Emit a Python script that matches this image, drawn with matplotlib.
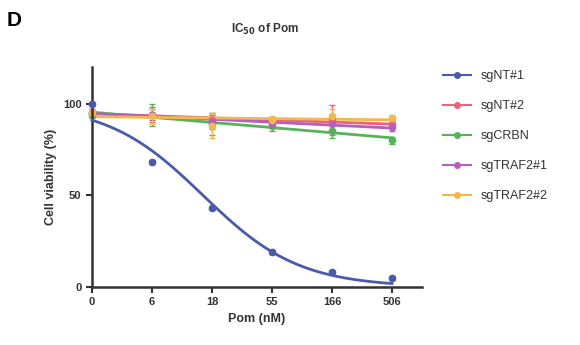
import numpy as np
import matplotlib
matplotlib.use("Agg")
import matplotlib.pyplot as plt

plt.rcParams['font.family'] = ['Liberation Sans', 'DejaVu Sans']

doses = ["0", "6", "18", "55", "166", "506"]
series_names = ["sgNT#1", "sgNT#2", "sgCRBN", "sgTRAF2#1", "sgTRAF2#2"]
colors = ["#4b5bab", "#e8637c", "#57b35a", "#b45fbf", "#f2b84b"]

nt1 = [100, 68, 43, 19, 8, 5]
nt2 = [95, 94, 91, 90, 91, 89]
crbn = [94, 94, 89, 88, 85, 80]
traf1 = [95, 94, 90, 89, 89, 87]
traf2 = [95, 93, 88, 91, 93, 92]
values = [nt1, nt2, crbn, traf1, traf2]
errs = [
    [1, 1, 1, 1, 1, 1],
    [2, 4, 4, 2, 8, 2],
    [2, 6, 6, 3, 4, 2],
    [2, 3, 4, 2, 3, 2],
    [2, 4, 7, 2, 4, 2],
]
# sigmoid fit parameters for sgNT#1 (top, bottom, mid index, hill)
nt1_fit = [100, 0, 1.85, 1.25]

fig = plt.figure(figsize=(5.8, 3.45), dpi=100)
ax = fig.add_axes([0.1586, 0.168, 0.569, 0.638])

x = np.arange(len(doses))
xs = np.linspace(0, len(doses) - 1, 200)
order = [1, 2, 3, 4, 0]
for i in order:
    v = np.array(values[i], dtype=float)
    c = colors[i]
    if i == 0:
        top, bot, mid, hill = nt1_fit
        ys = bot + (top - bot) / (1 + np.exp(hill * (xs - mid)))
    else:
        p = np.polyfit(x, v, 1)
        ys = np.polyval(p, xs)
    ax.plot(xs, ys, color=c, lw=2.0, zorder=3 if i == 0 else 2, clip_on=False)
    ax.errorbar(x, v, yerr=errs[i], fmt="o", color=c, ms=4.5, capsize=2.5,
                elinewidth=1, zorder=4 if i == 0 else 2, clip_on=False)

ax.set_xlim(0, 5.5)
ax.set_ylim(0, 120)
ax.set_xticks(x)
ax.set_xticklabels(doses)
ax.set_yticks([0, 50, 100])
for s in ["top", "right"]:
    ax.spines[s].set_visible(False)
for s in ["left", "bottom"]:
    ax.spines[s].set_linewidth(1.8)
    ax.spines[s].set_color("#333333")
ax.tick_params(width=1.5, length=4, labelsize=8, colors="#333333")
for lab in ax.get_xticklabels() + ax.get_yticklabels():
    lab.set_fontweight("bold")
ax.set_ylabel("Cell viability (%)", fontsize=9, fontweight="bold", color="#333333")
ax.set_xlabel("Pom (nM)", fontsize=9, fontweight="bold", color="#333333")

fig.text(0.457, 0.915, "IC$_{\\mathbf{50}}$ of Pom", fontsize=8.5, fontweight="bold",
         ha="center", va="center", color="#333333")
fig.text(0.012, 0.94, "D", fontsize=15, fontweight="bold", ha="left", va="center")

handles = []
for i in range(5):
    h = plt.Line2D([], [], color=colors[i], lw=1.5, marker="o", ms=4)
    handles.append(h)
fig.legend(handles, series_names, loc="upper left", bbox_to_anchor=(0.745, 0.83),
           frameon=False, fontsize=9, handlelength=2.2, labelspacing=1.45,
           labelcolor="#333333")

fig.savefig("out.png", dpi=100)
